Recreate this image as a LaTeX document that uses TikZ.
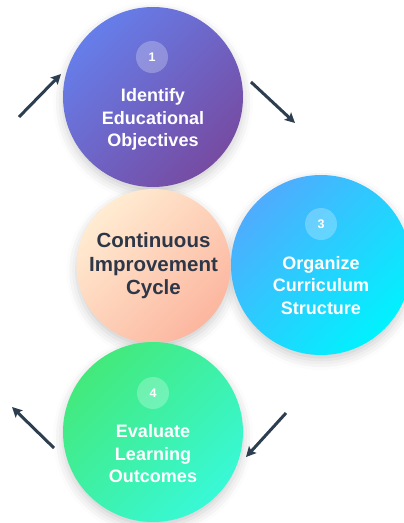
\documentclass[tikz,border=0pt]{standalone}
\usepackage{fontspec}
\setmainfont{Liberation Sans}
\usetikzlibrary{positioning,arrows.meta,shadows.blur}
\definecolor{defineA}{HTML}{667EEA}
\definecolor{defineB}{HTML}{764BA2}
\definecolor{organizeA}{HTML}{4FACFE}
\definecolor{organizeB}{HTML}{00F2FE}
\definecolor{evaluateA}{HTML}{43E97B}
\definecolor{evaluateB}{HTML}{38F9D7}
\definecolor{hubA}{HTML}{FFECD2}
\definecolor{hubB}{HTML}{FCB69F}
\definecolor{ink}{HTML}{2D3748}
\definecolor{flowdark}{HTML}{2C3E50}
\tikzset{
  % shadow only, laid down before any disc is filled
  halo/.style={circle, minimum size=#1, inner sep=0pt,
               blur shadow={shadow xshift=0pt, shadow yshift=-5pt,
                            shadow blur radius=10pt, shadow opacity=20}},
  stage/.style={circle, minimum size=180pt, inner sep=0pt,
                top color=#1A, bottom color=#1B, shading angle=45},
  hub/.style={circle, minimum size=154pt, inner sep=0pt,
              top color=hubA, bottom color=hubB, shading angle=45, text=ink,
              align=center, font=\bfseries\fontsize{20.5}{23.5}\selectfont},
  badge/.style={circle, fill=white, fill opacity=0.25, text opacity=1, text=white,
                minimum size=32pt, inner sep=0pt, font=\bfseries\fontsize{12.5}{12.5}\selectfont},
  stagetext/.style={align=center, text=white, font=\bfseries\fontsize{18}{22.5}\selectfont},
  flow/.style={-{Stealth[length=10pt, width=10pt, inset=2pt]}, line width=3pt, draw=flowdark}
}
\begin{document}
\begin{tikzpicture}[x=1pt, y=-1pt]
  \useasboundingbox (0,0) rectangle (404,523);
  % shadows first
  \node[halo=154pt] (h0) at (153.5,266) {};
  \node[halo=180pt] (h1) at (153,97) {};
  \node[halo=180pt] (h3) at (321,265) {};
  \node[halo=180pt] (h4) at (153,432) {};
  % centre of the cycle
  \node[hub] (hub) at (153.5,266) {Continuous\\Improvement\\Cycle};
  % the three stages round it
  \node[stage=define] (s1) at (153,97) {};
  \node[badge] (b1) at (152,57) {1};
  \node[stagetext] (t1) at (153,119.5) {Identify\\Educational\\Objectives};
  \node[stage=organize] (s3) at (321,265) {};
  \node[badge] (b3) at (321,224) {3};
  \node[stagetext] (t3) at (321,285.5) {Organize\\Curriculum\\Structure};
  \node[stage=evaluate] (s4) at (153,432) {};
  \node[badge] (b4) at (153,393) {4};
  \node[stagetext] (t4) at (153,454) {Evaluate\\Learning\\Outcomes};
  % arrow ends
  \coordinate (a1) at (19,117);  \coordinate (a1e) at (61,74);
  \coordinate (a2) at (251,82);  \coordinate (a2e) at (295,123);
  \coordinate (a3) at (286,413); \coordinate (a3e) at (246,457);
  \coordinate (a4) at (54,448);  \coordinate (a4e) at (12,407);
  \draw[flow] (a1) -- (a1e);
  \draw[flow] (a2) -- (a2e);
  \draw[flow] (a3) -- (a3e);
  \draw[flow] (a4) -- (a4e);
\end{tikzpicture}
\end{document}
